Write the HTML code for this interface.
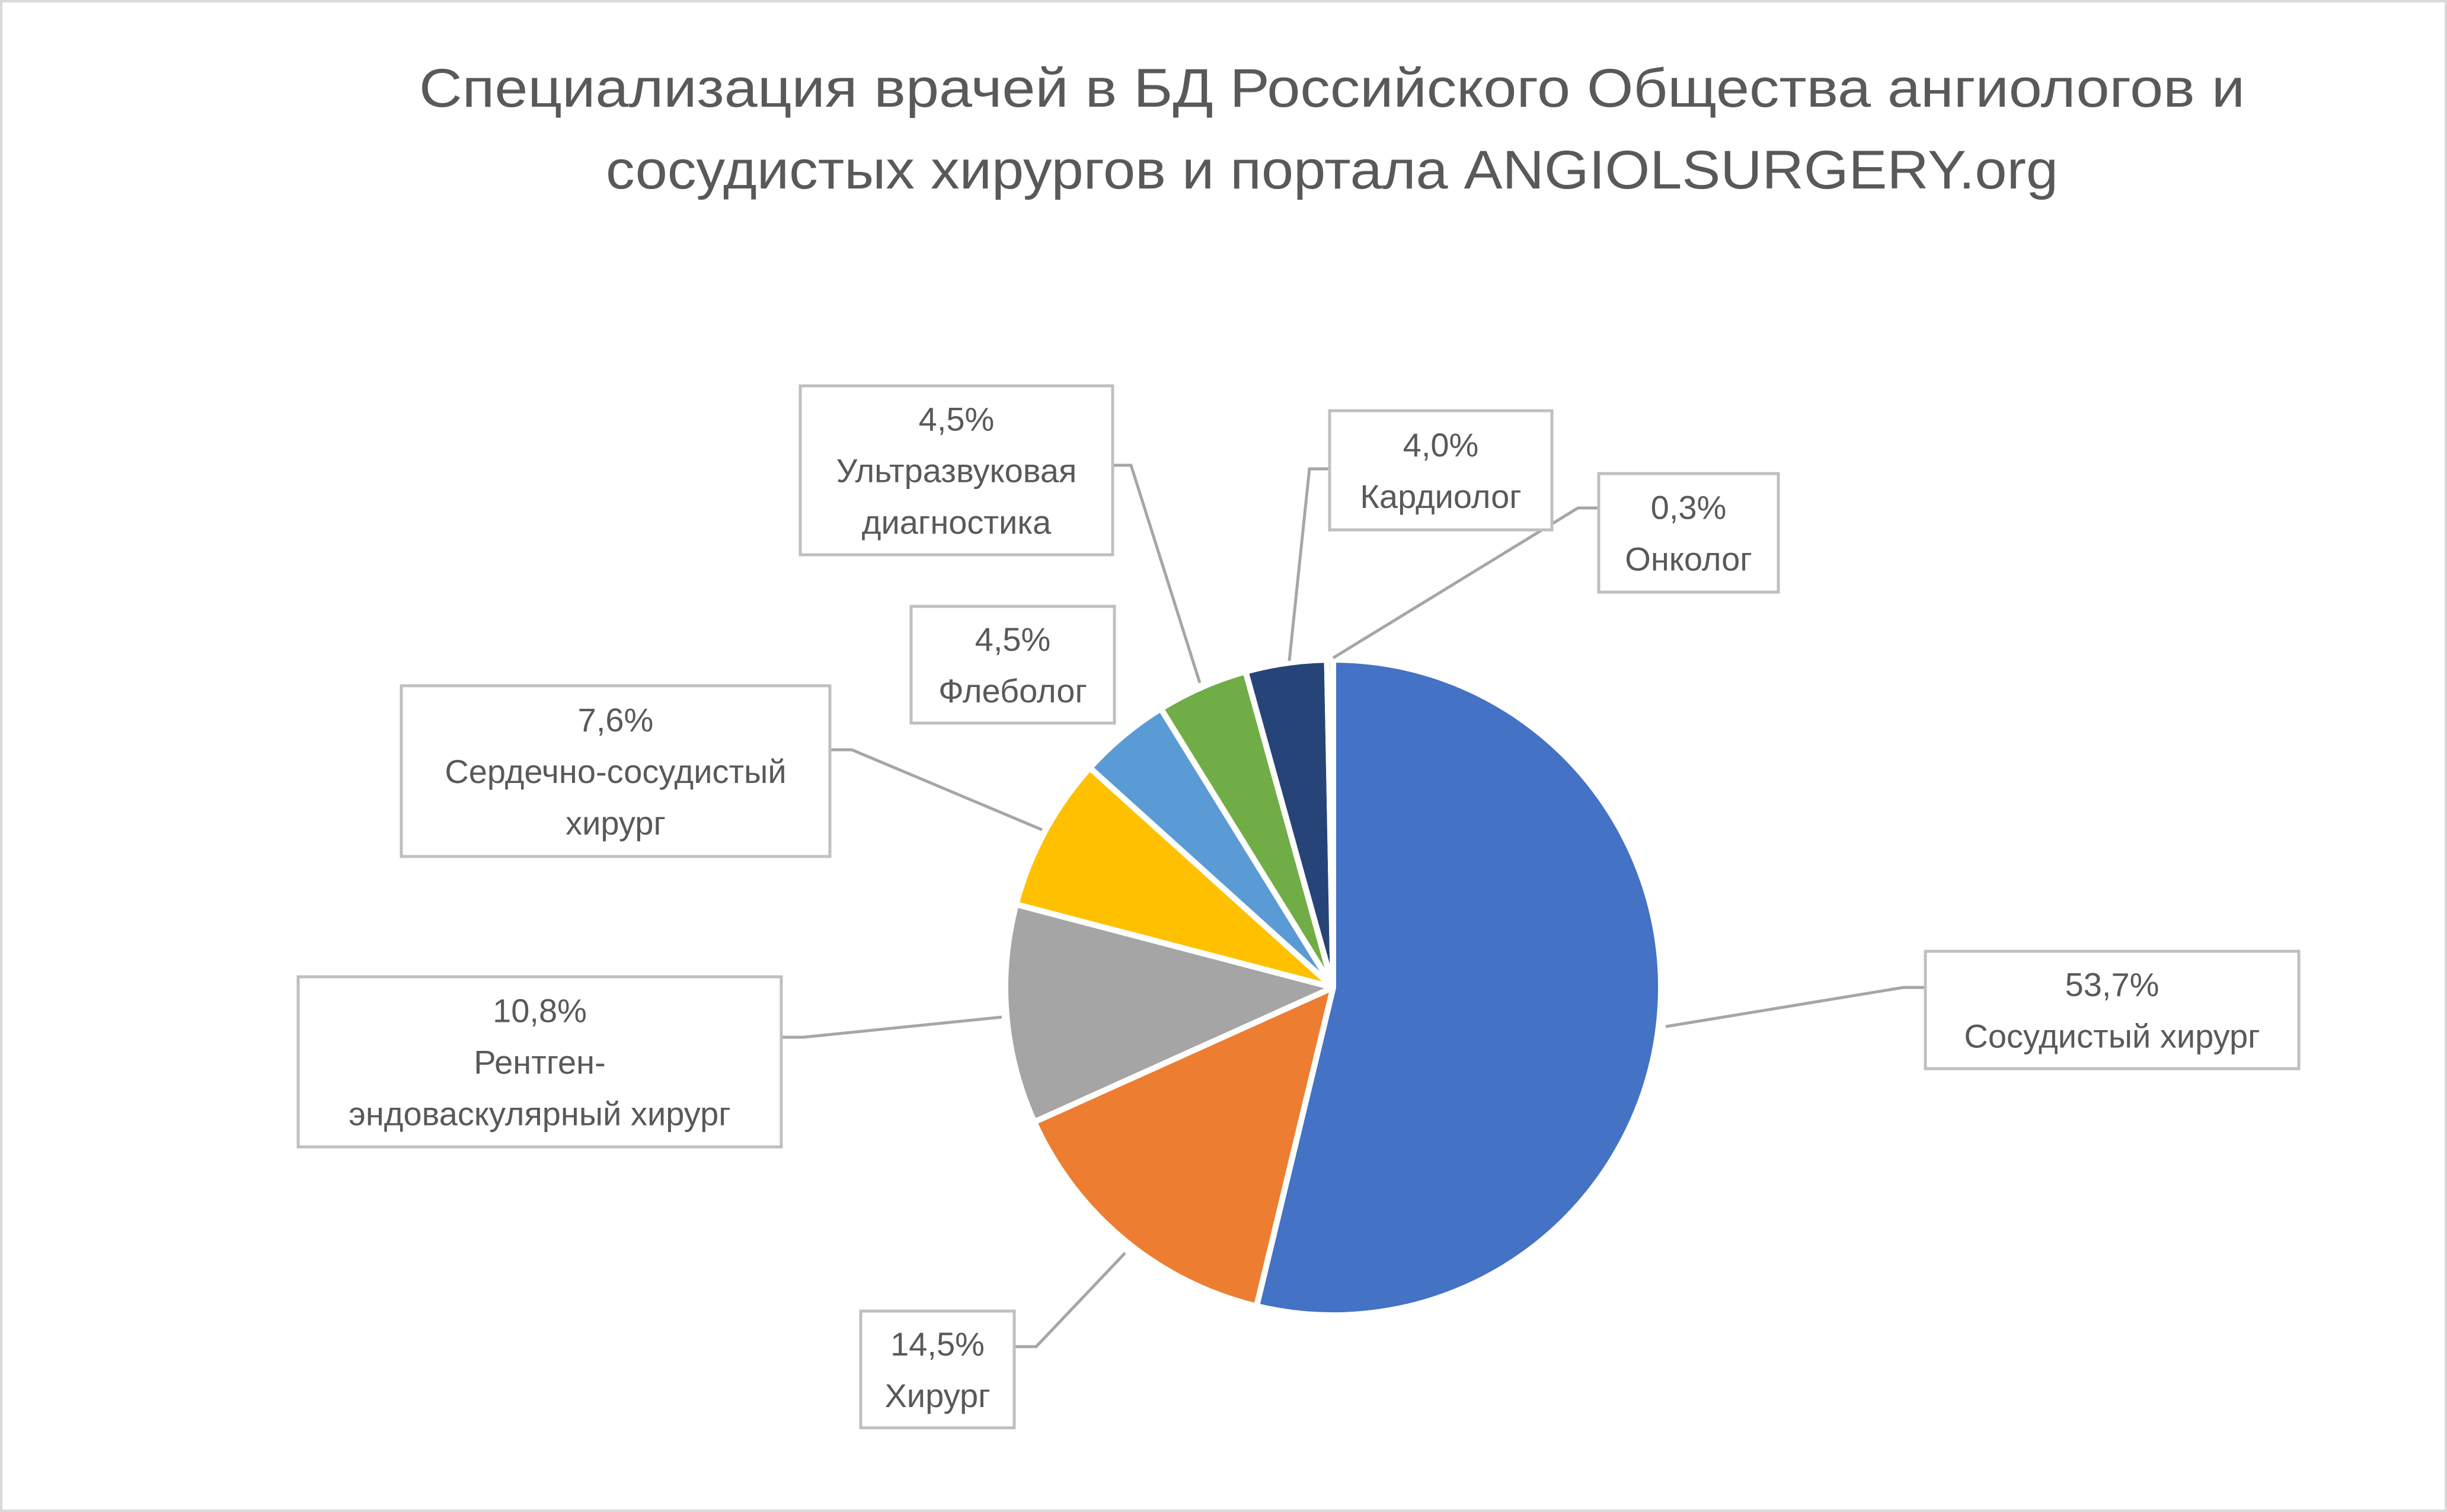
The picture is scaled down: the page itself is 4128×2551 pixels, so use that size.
<!DOCTYPE html>
<html><head><meta charset="utf-8"><style>
html,body{margin:0;padding:0;background:#fff}
svg{display:block}
text{font-family:"Liberation Sans","DejaVu Sans",sans-serif;fill:#595959}
</style></head><body>
<svg id="chart" width="4128" height="2551" viewBox="0 0 4128 2551" xmlns="http://www.w3.org/2000/svg">
<rect x="2" y="2" width="4124" height="2547" fill="#fff" stroke="#d9d9d9" stroke-width="4"/>
<text x="2247" y="180" font-size="92" text-anchor="middle" textLength="3080" lengthAdjust="spacingAndGlyphs">Специализация врачей в БД Российского Общества ангиологов и</text>
<text x="2247" y="318" font-size="92" text-anchor="middle" textLength="2450" lengthAdjust="spacingAndGlyphs">сосудистых хирургов и портала ANGIOLSURGERY.org</text>
<g id="slices"></g>
<g id="leaders" stroke="#a6a6a6" stroke-width="5" fill="none">
<polyline points="1877,785 1908,785 2024,1152"/>
<polyline points="2243,791 2209,791 2175,1115"/>
<polyline points="2697,857 2662,857 2249,1110"/>
<polyline points="1400,1265 1437,1265 1758,1400"/>
<polyline points="1318,1750 1355,1750 1690,1716"/>
<polyline points="1711,2272 1748,2272 1898,2114"/>
<polyline points="3248,1666 3211,1666 2810,1732"/>
</g>
<g id="labels"></g>
</svg>
<script>
const categories = ["Сосудистый хирург","Хирург","Рентген-эндоваскулярный хирург","Сердечно-сосудистый хирург","Флеболог","Ультразвуковая диагностика","Кардиолог","Онколог"];
const values = [53.7,14.5,10.8,7.6,4.5,4.5,4.0,0.3];
const valueLabels = ["53,7%","14,5%","10,8%","7,6%","4,5%","4,5%","4,0%","0,3%"];
const colors = ["#4472c4","#ed7d31","#a5a5a5","#ffc000","#5b9bd5","#70ad47","#264478","#9e480e"];
const labelLines = [["Сосудистый хирург"],["Хирург"],["Рентген-","эндоваскулярный хирург"],["Сердечно-сосудистый","хирург"],["Флеболог"],["Ультразвуковая","диагностика"],["Кардиолог"],["Онколог"]];
const boxes = [[3248,1605,3878,1803],[1452,2212,1711,2409],[503,1648,1318,1935],[677,1157,1400,1445],[1537,1023,1880,1220],[1350,651,1877,936],[2243,693,2618,894],[2697,799,3000,999]];
const NS="http://www.w3.org/2000/svg";
const cx=2249, cy=1666, r=553;
const total=values.reduce((a,b)=>a+b,0);
function angle(v){return v/total*2*Math.PI;}
function pt(a){return [cx+r*Math.sin(a), cy-r*Math.cos(a)];}
const sg=document.getElementById('slices');
let acc=0;
values.forEach((v,i)=>{
  const a0=angle(acc), a1=angle(acc+v); acc+=v;
  const p0=pt(a0), p1=pt(a1);
  const large=(a1-a0)>Math.PI?1:0;
  const p=document.createElementNS(NS,'path');
  p.setAttribute('d',`M${cx},${cy} L${p0[0]},${p0[1]} A${r},${r} 0 ${large} 1 ${p1[0]},${p1[1]} Z`);
  p.setAttribute('fill',colors[i]);
  p.setAttribute('stroke','#fff');
  p.setAttribute('stroke-width','10');
  p.setAttribute('stroke-linejoin','round');
  
  
  sg.appendChild(p);
});
const lg=document.getElementById('labels');
categories.forEach((c,i)=>{
  const b=boxes[i];
  const g=document.createElementNS(NS,'g');
  
  
  const rect=document.createElementNS(NS,'rect');
  rect.setAttribute('x',b[0]);rect.setAttribute('y',b[1]);
  rect.setAttribute('width',b[2]-b[0]);rect.setAttribute('height',b[3]-b[1]);
  rect.setAttribute('fill','#fff');rect.setAttribute('stroke','#bfbfbf');rect.setAttribute('stroke-width','5');
  
  
  g.appendChild(rect);
  const lines=[valueLabels[i]].concat(labelLines[i]);
  const lh=87, mx=(b[0]+b[2])/2, my=(b[1]+b[3])/2;
  const y0=my-(lines.length-1)*lh/2+20;
  lines.forEach((t,k)=>{
    const tx=document.createElementNS(NS,'text');
    tx.setAttribute('x',mx);tx.setAttribute('y',y0+k*lh);
    tx.setAttribute('font-size','56');tx.setAttribute('text-anchor','middle');
    tx.textContent=t;
    
    
    g.appendChild(tx);
    const maxw=(b[2]-b[0])-40;
    if(tx.getComputedTextLength()>maxw){tx.setAttribute('textLength',maxw);tx.setAttribute('lengthAdjust','spacingAndGlyphs');}
  });
  lg.appendChild(g);
});
</script>
</body></html>
